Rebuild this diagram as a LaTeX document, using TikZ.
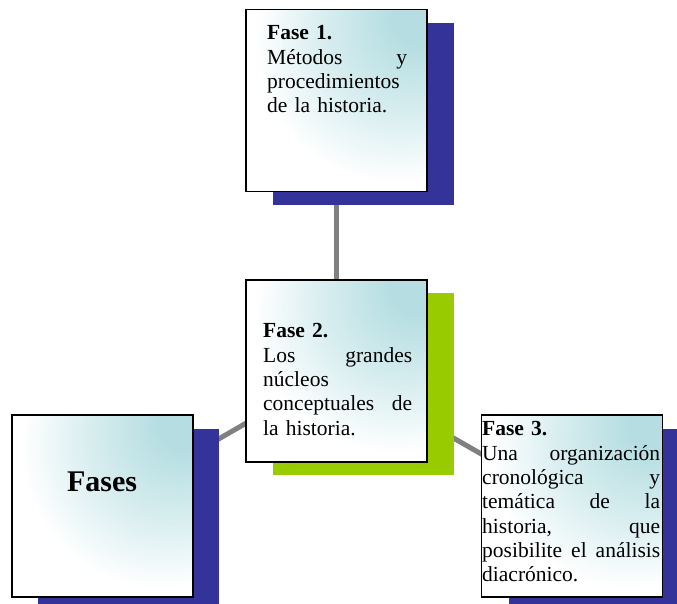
\documentclass[tikz,border=0pt]{standalone}
\usepackage{fontspec}
\setmainfont{Liberation Serif}
\pgfdeclarelayer{lines}
\pgfdeclarelayer{shadows}
\pgfsetlayers{lines,shadows,main}
\definecolor{shnavy}{RGB}{51,51,153}
\definecolor{shgreen}{RGB}{153,204,0}
\definecolor{tealone}{RGB}{182,222,226}
\definecolor{linegray}{RGB}{128,128,128}
\pgfdeclareradialshading{cornerglow}{\pgfpoint{25bp}{25bp}}{color(0bp)=(tealone); color(8bp)=(tealone); color(24bp)=(tealone!50!white); color(38bp)=(white); color(100bp)=(white)}
\tikzset{
  faseBox/.style={draw=black, line width=1.6pt, outer sep=0pt, minimum width=181pt, minimum height=182pt, inner sep=0pt, shade, shading=cornerglow},
  faseText/.style={anchor=north west, inner sep=0pt, align=left, font=\fontsize{21.5}{24.3}\selectfont},
  link/.style={draw=linegray, line width=5pt},
}
\begin{document}
\begin{tikzpicture}[x=1pt,y=1pt]
\useasboundingbox (0,0) rectangle (677,604);
\node[faseBox] (f1) at (336.5,503.5) {};
\node[faseBox] (f2) at (336.5,233) {};
\node[faseBox] (f0) at (102.5,98) {};
\node[faseBox] (f3) at (572,98) {};
\begin{pgfonlayer}{lines}
\draw[link] (f1.center) -- (f2.center);
\draw[link] (f0.center) -- (f2.center);
\draw[link] (f2.center) -- (f3.center);
\end{pgfonlayer}
\begin{pgfonlayer}{shadows}
\fill[shnavy] ([shift={(27,-13.5)}]f1.south west) rectangle ([shift={(27,-13.5)}]f1.north east);
\fill[shgreen] ([shift={(27,-13.5)}]f2.south west) rectangle ([shift={(27,-13.5)}]f2.north east);
\fill[shnavy] ([shift={(26,-14)}]f0.south west) rectangle ([shift={(26,-14)}]f0.north east);
\fill[shnavy] ([shift={(27,-14)}]f3.south west) rectangle ([shift={(27,-14)}]f3.north east);
\end{pgfonlayer}
\node[faseText, text width=140pt] (t1) at (267,578.5) {\textbf{Fase 1.}\\Métodos\hfill y\\procedimientos\\de la historia.};
\node[faseText, text width=149pt] (t2) at (263,280.5) {\textbf{Fase 2.}\\Los\hfill grandes\\núcleos\\conceptuales\hfill de\\la historia.};
\node[faseText, text width=178pt] (t3) at (482,182.5) {\textbf{Fase 3.}\\Una\hfill organización\\cronológica\hfill y\\temática\hfill de\hfill la\\historia,\hfill que\\posibilite\hfill el\hfill análisis\\diacrónico.};
\node[font=\fontsize{30}{36}\selectfont\bfseries, anchor=base, inner sep=0pt] (t0) at (102,112) {Fases};
\end{tikzpicture}
\end{document}
